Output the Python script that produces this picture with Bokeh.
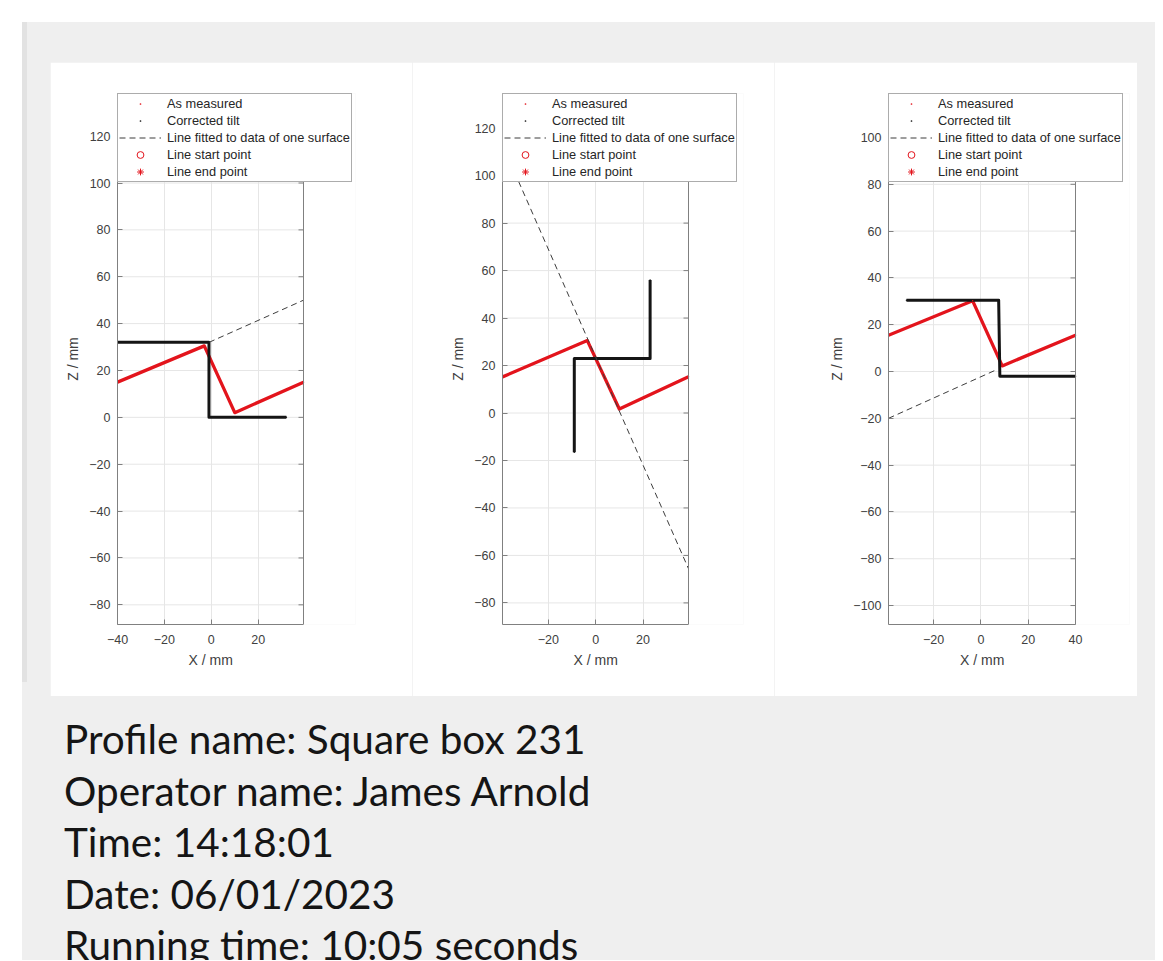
import math
from bokeh.plotting import figure
from bokeh.models import (Range1d, FixedTicker, Legend, LegendItem, Span, Title, Div)
from bokeh.layouts import row, column
from bokeh.embed import file_html
from bokeh.resources import INLINE

# ---------------- data ----------------
# Panel 1
p1_meas_x = [-40, -3, 10, 39.3]
p1_meas_z = [15, 30.5, 2, 15]
p1_corr_x = [-40, -1, -1, 32]
p1_corr_z = [32, 32, 0, 0]
p1_fit_x = [-1, 39.3]
p1_fit_z = [32, 50]

# Panel 2
p2_meas_x = [-39.3, -3.5, 10, 39.2]
p2_meas_z = [15.2, 30.5, 1.7, 15.3]
p2_corr_x = [-9, -9, 23, 23]
p2_corr_z = [-16.5, 23, 23, 56]
p2_fit_x = [-39.3, 39.2]
p2_fit_z = [113, -65.6]

# Panel 3
p3_meas_x = [-39.1, -3.5, 9, 40]
p3_meas_z = [15.5, 30.2, 2.4, 15.5]
p3_corr_x = [-31.5, 7.5, 8, 40]
p3_corr_z = [30.5, 30.5, -2, -2]
p3_fit_x = [-39.1, 6]
p3_fit_z = [-20, 0.5]

# axis limits of each box
p1_xlim = (-40, 39.3)
p1_ylim = (-88.4, 138.2)
p2_xlim = (-39.3, 39.2)
p2_ylim = (-89.1, 134.6)
p3_xlim = (-39.1, 40)
p3_ylim = (-108.1, 118.8)

p1_xticks = [-40, -20, 0, 20]
p2_xticks = [-20, 0, 20]
p3_xticks = [-20, 0, 20, 40]
p1_yticks = [-80, -60, -40, -20, 0, 20, 40, 60, 80, 100, 120]
p2_yticks = [-80, -60, -40, -20, 0, 20, 40, 60, 80, 100, 120]
p3_yticks = [-100, -80, -60, -40, -20, 0, 20, 40, 60, 80, 100]

legend_labels = ["As measured", "Corrected tilt", "Line fitted to data of one surface",
                 "Line start point", "Line end point"]
x_label = "X / mm"
z_label = "Z / mm"

info_lines = ["Profile name: Square box 231",
              "Operator name: James Arnold",
              "Time: 14:18:01",
              "Date: 06/01/2023",
              "Running time: 10:05 seconds"]

RED = "#e3141c"
BLACK = "#151515"
AX = "#808080"
GRID = "#e6e6e6"
TXT = "#404040"
FONT = "Liberation Sans"
DASH_COLOR = "#3c3c3c"
NAN = float("nan")
XLABEL_W = 44  # approximate rendered width of the x label (px)


def make_panel(xlim, ylim, xticks, yticks, fig_w, bl, box_w, frame_w, bt, fh, bb,
               mx, mz, cx, cz, fx, fz):
    # the plotting frame is wider than the axes box so the key can stick out on the right
    x_end = xlim[0] + frame_w * (xlim[1] - xlim[0]) / box_w
    p = figure(width=fig_w, height=bt + fh + bb,
               x_range=Range1d(xlim[0], x_end), y_range=Range1d(*ylim),
               output_backend="svg", toolbar_location=None,
               min_border_left=bl, min_border_right=fig_w - bl - frame_w,
               min_border_top=bt, min_border_bottom=bb,
               background_fill_color="white", border_fill_color="white",
               outline_line_color=None)
    xt = FixedTicker(ticks=xticks)
    yt = FixedTicker(ticks=yticks)
    p.xaxis.ticker = xt
    p.yaxis.ticker = yt
    p.xaxis.bounds = xlim
    p.xgrid.ticker = xt
    p.xgrid.grid_line_color = GRID
    p.ygrid.visible = False
    # horizontal grid lines limited to the axes box
    p.segment(x0=[xlim[0]] * len(yticks), x1=[xlim[1]] * len(yticks), y0=yticks, y1=yticks,
              line_color=GRID, line_width=1, level="underlay")
    for ax in (p.xaxis, p.yaxis):
        ax.axis_line_color = AX
        ax.major_tick_line_color = AX
        ax.major_tick_in = 5
        ax.major_tick_out = 0
        ax.minor_tick_line_color = None
        ax.major_label_text_font = FONT
        ax.major_label_text_font_size = "12.5px"
        ax.major_label_text_color = TXT
        ax.axis_label_text_font = FONT
        ax.axis_label_text_font_size = "14px"
        ax.axis_label_text_font_style = "normal"
        ax.axis_label_text_color = TXT
    p.yaxis.axis_label = z_label
    p.xaxis.major_label_standoff = 10
    p.yaxis.major_label_standoff = 7
    p.yaxis.axis_label_standoff = 5

    # x label centred under the axes box (not under the wider frame)
    p.add_layout(Title(text=x_label, align="left", offset=box_w / 2 - XLABEL_W / 2,
                       text_font=FONT, text_font_size="14px", text_font_style="normal",
                       text_color=TXT, standoff=7), "below")

    # right edge of the box and its inward ticks
    p.add_layout(Span(location=xlim[1], dimension="height", line_color=AX, line_width=1))
    p.ray(x=[xlim[1]] * len(yticks), y=yticks, length=5, length_units="screen",
          angle=math.pi, line_color=AX, line_width=1)

    p.line(mx, mz, line_color=RED, line_width=3.3, line_join="round")
    p.line(cx, cz, line_color=BLACK, line_width=3, line_join="round")
    r_fit = p.line(fx, fz, line_color=DASH_COLOR, line_width=1, line_dash="6 4")
    r_m = p.scatter(mx, mz, marker="dot", line_color=RED, fill_color=RED, size=6)
    r_c = p.scatter(cx, cz, marker="dot", line_color=BLACK, fill_color=BLACK, size=6)
    r_s = p.scatter([NAN], [NAN], marker="circle", line_color=RED, fill_color=None, line_width=1)
    r_e = p.scatter([NAN], [NAN], marker="asterisk", line_color=RED, line_width=1)

    items = [LegendItem(label=legend_labels[0], renderers=[r_m]),
             LegendItem(label=legend_labels[1], renderers=[r_c]),
             LegendItem(label=legend_labels[2], renderers=[r_fit]),
             LegendItem(label=legend_labels[3], renderers=[r_s]),
             LegendItem(label=legend_labels[4], renderers=[r_e])]
    leg = Legend(items=items, location="top_left", margin=0, padding=1, spacing=0,
                 glyph_width=42, glyph_height=17, label_height=17, label_standoff=6,
                 label_text_font=FONT, label_text_font_size="12.8px",
                 label_text_color="#262626", border_line_color="#5a5a5a",
                 border_line_width=1, background_fill_color="white",
                 background_fill_alpha=1.0)
    p.add_layout(leg)
    return p


p1 = make_panel(p1_xlim, p1_ylim, p1_xticks, p1_yticks, 362, 67, 186, 238, 31, 531, 72,
                p1_meas_x, p1_meas_z, p1_corr_x, p1_corr_z, p1_fit_x, p1_fit_z)
p2 = make_panel(p2_xlim, p2_ylim, p2_xticks, p2_yticks, 362, 90, 186, 241, 31, 531, 72,
                p2_meas_x, p2_meas_z, p2_corr_x, p2_corr_z, p2_fit_x, p2_fit_z)
p3 = make_panel(p3_xlim, p3_ylim, p3_xticks, p3_yticks, 363, 114, 187, 241, 31, 531, 72,
                p3_meas_x, p3_meas_z, p3_corr_x, p3_corr_z, p3_fit_x, p3_fit_z)

plots = row(p1, p2, p3, margin=(40, 0, 0, 28))

info = Div(text="<br>".join(info_lines), width=1080, height=247, margin=(17, 0, 0, 42),
           styles={"font-family": "Lato", "font-size": "40.5px", "line-height": "51.5px",
                   "color": "#151515", "overflow": "hidden", "white-space": "nowrap"})

page = column(plots, info, width=1133, height=938, margin=(22, 0, 0, 22),
              styles={"background": "linear-gradient(#e2e2e2,#e2e2e2) no-repeat 0 0 / 5px 660px, #efefef"})

open("out.html", "w").write(file_html(page, INLINE))
